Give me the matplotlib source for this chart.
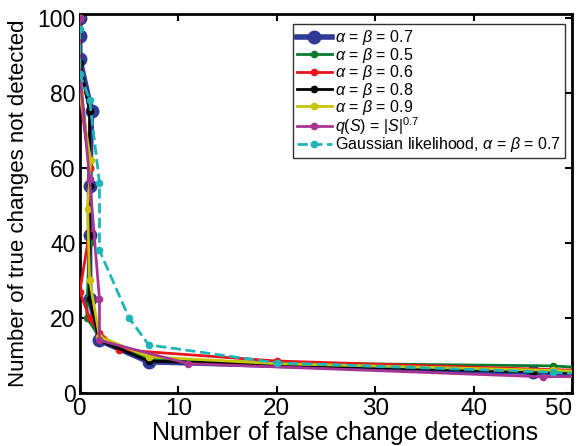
import matplotlib
matplotlib.use("Agg")
import matplotlib.pyplot as plt

plt.rcParams['font.family'] = ['Liberation Sans', 'DejaVu Sans']
plt.rcParams['mathtext.fontset'] = 'custom'
plt.rcParams['mathtext.rm'] = 'Liberation Sans'
plt.rcParams['mathtext.it'] = 'Liberation Sans:italic'

# Data
x_07 = [0, 0, 0, 1.2, 1, 1, 1, 2, 7, 46, 52]
y_07 = [100, 95, 89, 75, 55, 42, 25, 14, 8.3, 5.5, 5.0]

x_05 = [0, 0, 1, 1, 0.7, 2, 7, 20, 48, 52]
y_05 = [100, 85, 60, 40, 20, 15, 9, 8, 7.2, 6.6]

x_06 = [0, 0, 1, 1, 0, 1, 2, 4, 20, 48, 52]
y_06 = [100, 80, 60, 43, 27, 20, 16, 11.5, 8.5, 6.2, 6.0]

x_08 = [0, 0, 1, 1, 1, 1, 2, 7, 46, 52]
y_08 = [100, 88, 75, 55, 42, 25, 14, 8.5, 5.6, 5.4]

x_09 = [0, 0, 1.1, 0.8, 1, 2, 7, 20, 48, 52]
y_09 = [100, 80, 62, 49, 30, 15, 9.6, 7.8, 6.0, 5.6]

x_q = [0, 0, 1, 2, 2, 11, 47, 52]
y_q = [100, 85, 57, 25, 14, 7.8, 4.3, 4.4]

x_g = [0, 0, 1, 2, 2, 5, 7, 20, 48, 52]
y_g = [97, 85, 78, 56, 38, 20, 12.8, 8.0, 5.5, 5.0]

x_ticks = [0, 10, 20, 30, 40, 50]
y_ticks = [0, 20, 40, 60, 80, 100]

labels = [r'$\alpha$ = $\beta$ = 0.7', r'$\alpha$ = $\beta$ = 0.5', r'$\alpha$ = $\beta$ = 0.6',
          r'$\alpha$ = $\beta$ = 0.8', r'$\alpha$ = $\beta$ = 0.9', r'$q(S)$ = $|S|^{0.7}$',
          r'Gaussian likelihood, $\alpha$ = $\beta$ = 0.7']

fig = plt.figure(figsize=(5.78, 4.46), dpi=100)
ax = fig.add_axes([0.138, 0.119, 0.852, 0.85])

ax.plot(x_07, y_07, '-o', color='#2e3a94', lw=4, ms=9, label=labels[0], zorder=2)
ax.plot(x_05, y_05, '-o', color='#0b7a2e', lw=2, ms=4.5, label=labels[1], zorder=3)
ax.plot(x_06, y_06, '-o', color='#e8141b', lw=2, ms=4.5, label=labels[2], zorder=3)
ax.plot(x_08, y_08, '-o', color='black', lw=2, ms=4.5, label=labels[3], zorder=3)
ax.plot(x_09, y_09, '-o', color='#c8c400', lw=2, ms=4.5, label=labels[4], zorder=3)
ax.plot(x_q, y_q, '-o', color='#a83594', lw=2, ms=4.5, label=labels[5], zorder=4)
ax.plot(x_g, y_g, '--o', color='#1fb5b8', lw=2, ms=4.5, label=labels[6], zorder=5)

ax.set_xlim(0, 50)
ax.set_ylim(0, 101)
ax.set_xticks(x_ticks)
ax.set_yticks(y_ticks)
ax.tick_params(direction='in', top=True, right=True, length=5, width=1.5)
ax.tick_params(axis='x', pad=4, labelsize=17.5)
ax.tick_params(axis='y', pad=3, labelsize=16.5)
ax.get_xticklabels()[-1].set_horizontalalignment('right')
for s in ax.spines.values():
    s.set_linewidth(2)

ax.set_xlabel('Number of false change detections', fontsize=18, labelpad=0)
ax.xaxis.set_label_coords(0.539, -0.075, transform=ax.transAxes)
ax.xaxis.label.set_va('top')
ax.set_ylabel('Number of true changes not detected', fontsize=16, labelpad=6)

leg = ax.legend(loc='upper right', bbox_to_anchor=(0.995, 0.985), fontsize=11.5, frameon=True,
                fancybox=False, edgecolor='black', handlelength=2.2, handletextpad=0.2,
                labelspacing=-0.1, borderpad=0.25, borderaxespad=0.3)
leg.get_frame().set_linewidth(1)

fig.savefig('out.png', dpi=100)
